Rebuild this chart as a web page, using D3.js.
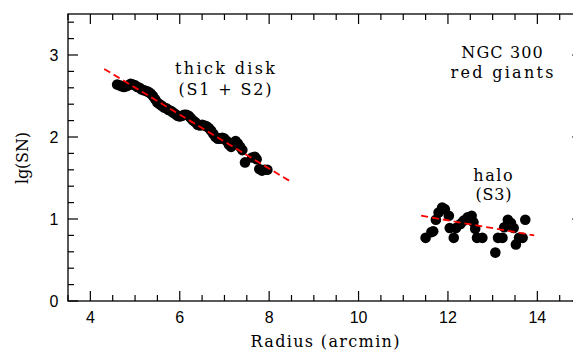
<!DOCTYPE html>
<html>
<head>
<meta charset="utf-8">
<script src="https://cdn.jsdelivr.net/npm/d3@7"></script>
<style>
  html, body { margin: 0; padding: 0; background: #fff; }
  svg { display: block; }
</style>
</head>
<body>
<svg id="chart" width="573" height="354"></svg>
<script>
// ---- data ----
const diskR = [4.60,4.65,4.70,4.75,4.80,4.85,4.90,4.95,5.00,5.05,5.10,5.15,5.20,5.25,5.30,5.35,5.40,5.45,5.50,5.55,5.60,5.65,5.70,5.75,5.80,5.85,5.90,5.95,6.00,6.05,6.10,6.15,6.20,6.25,6.30,6.35,6.40,6.45,6.50,6.55,6.60,6.65,6.70,6.75,6.80,6.85,6.90,6.95,7.00,7.05,7.10,7.15,7.20,7.25,7.30,7.35,7.40,7.46,7.62,7.68,7.72,7.78,7.84,7.90,7.96];
const diskLg = [2.64,2.63,2.62,2.61,2.62,2.63,2.65,2.64,2.63,2.61,2.60,2.58,2.57,2.56,2.55,2.53,2.50,2.46,2.42,2.40,2.38,2.36,2.35,2.33,2.32,2.30,2.28,2.26,2.25,2.26,2.27,2.27,2.26,2.23,2.20,2.18,2.15,2.14,2.15,2.14,2.13,2.11,2.08,2.04,2.00,1.98,1.98,1.99,1.98,1.95,1.91,1.88,1.92,1.95,1.92,1.88,1.84,1.69,1.75,1.76,1.73,1.61,1.59,1.60,1.60];
const haloR = [11.50,11.63,11.67,11.73,11.79,11.87,11.93,12.02,12.04,12.13,12.18,12.28,12.35,12.44,12.53,12.57,12.61,12.65,12.77,13.06,13.12,13.22,13.26,13.34,13.41,13.47,13.52,13.59,13.67,13.73];
const haloLg = [0.77,0.84,0.85,0.99,1.08,1.14,1.12,1.04,0.89,0.77,0.89,0.94,0.98,1.02,1.04,0.96,0.88,0.77,0.77,0.59,0.77,0.77,0.90,0.99,0.95,0.89,0.69,0.77,0.77,0.99];
const diskFitR = [4.31, 8.50];
const diskFitLg = [2.83, 1.45];
const haloFitR = [11.40, 13.93];
const haloFitLg = [1.04, 0.80];
const xTickLabels = [4, 6, 8, 10, 12, 14];
const yTickLabels = [0, 1, 2, 3];
const xTitle = "Radius (arcmin)";
const yTitle = "lg(SN)";

// ---- layout ----
const svg = d3.select("#chart");
const x = d3.scaleLinear().domain([3.5, 15.0]).range([68, 68 + 11.5 * 44.7]);
const y = d3.scaleLinear().domain([0, 3.5]).range([301, 14]);
const X0 = x.range()[0], X1 = x.range()[1], Y0 = y.range()[0], Y1 = y.range()[1];

const majorLen = 10, minorLen = 6;
const g = svg.append("g");

// frame
g.append("rect").attr("x", X0).attr("y", Y1).attr("width", X1 - X0).attr("height", Y0 - Y1)
  .attr("fill", "none").attr("stroke", "#000").attr("stroke-width", 1.3);

// x ticks (bottom + top)
const xMinor = d3.range(3.5, 15.001, 0.5);
xMinor.forEach(v => {
  const isMajor = Math.abs(v / 2 - Math.round(v / 2)) < 1e-6;
  const L = isMajor ? majorLen : minorLen;
  g.append("line").attr("x1", x(v)).attr("x2", x(v)).attr("y1", Y0).attr("y2", Y0 - L)
    .attr("stroke", "#000").attr("stroke-width", 1.2);
  g.append("line").attr("x1", x(v)).attr("x2", x(v)).attr("y1", Y1).attr("y2", Y1 + L)
    .attr("stroke", "#000").attr("stroke-width", 1.2);
});
// y ticks (left + right)
const yMinor = d3.range(0, 3.5001, 0.2);
yMinor.forEach(v => {
  const isMajor = Math.abs(v - Math.round(v)) < 1e-6;
  const L = isMajor ? majorLen : minorLen;
  g.append("line").attr("x1", X0).attr("x2", X0 + L).attr("y1", y(v)).attr("y2", y(v))
    .attr("stroke", "#000").attr("stroke-width", 1.2);
  g.append("line").attr("x1", X1).attr("x2", X1 - L).attr("y1", y(v)).attr("y2", y(v))
    .attr("stroke", "#000").attr("stroke-width", 1.2);
});

// tick labels
const tickFont = "'Liberation Sans', Arial, sans-serif";
g.selectAll(".xl").data(xTickLabels).enter().append("text")
  .attr("x", d => x(d)).attr("y", 323).attr("text-anchor", "middle")
  .attr("font-family", tickFont).attr("font-size", 16).text(d => d);
g.selectAll(".yl").data(yTickLabels).enter().append("text")
  .attr("x", 58.5).attr("y", d => y(d) + 6).attr("text-anchor", "end")
  .attr("font-family", tickFont).attr("font-size", 16).text(d => d);

// titles
const serif = "'DejaVu Serif', 'Liberation Serif', serif";
function label(txt, cx, by, w) {
  return g.append("text").attr("x", cx - w / 2).attr("y", by)
    .attr("font-family", serif).attr("font-size", 16)
    .attr("textLength", w).attr("lengthAdjust", "spacing").text(txt);
}
label(xTitle, 325, 346.5, 149);
g.append("text").attr("transform", "translate(28,158) rotate(-90)")
  .attr("x", -26).attr("y", 0).attr("font-family", serif).attr("font-size", 16)
  .attr("textLength", 52).attr("lengthAdjust", "spacing").text(yTitle);

// annotations
label("thick disk", 225, 74, 100);
label("(S1 + S2)", 225, 94.5, 93);
label("NGC 300", 502, 58.3, 81.5);
label("red giants", 502, 77.7, 103);
label("halo", 493, 181, 39.5);
label("(S3)", 493.5, 200, 36);

// points
const pts = diskR.map((r, i) => [r, diskLg[i]]).concat(haloR.map((r, i) => [r, haloLg[i]]));
g.selectAll(".pt").data(pts).enter().append("circle")
  .attr("cx", d => x(d[0])).attr("cy", d => y(d[1])).attr("r", 5.3).attr("fill", "#000");

// fit lines
const line = d3.line().x(d => x(d[0])).y(d => y(d[1]));
[[diskFitR, diskFitLg], [haloFitR, haloFitLg]].forEach(([rs, ls]) => {
  g.append("path").datum(rs.map((r, i) => [r, ls[i]])).attr("d", line)
    .attr("fill", "none").attr("stroke", "#ff0000").attr("stroke-width", 1.8)
    .attr("stroke-dasharray", "7,4");
});
</script>
</body>
</html>
